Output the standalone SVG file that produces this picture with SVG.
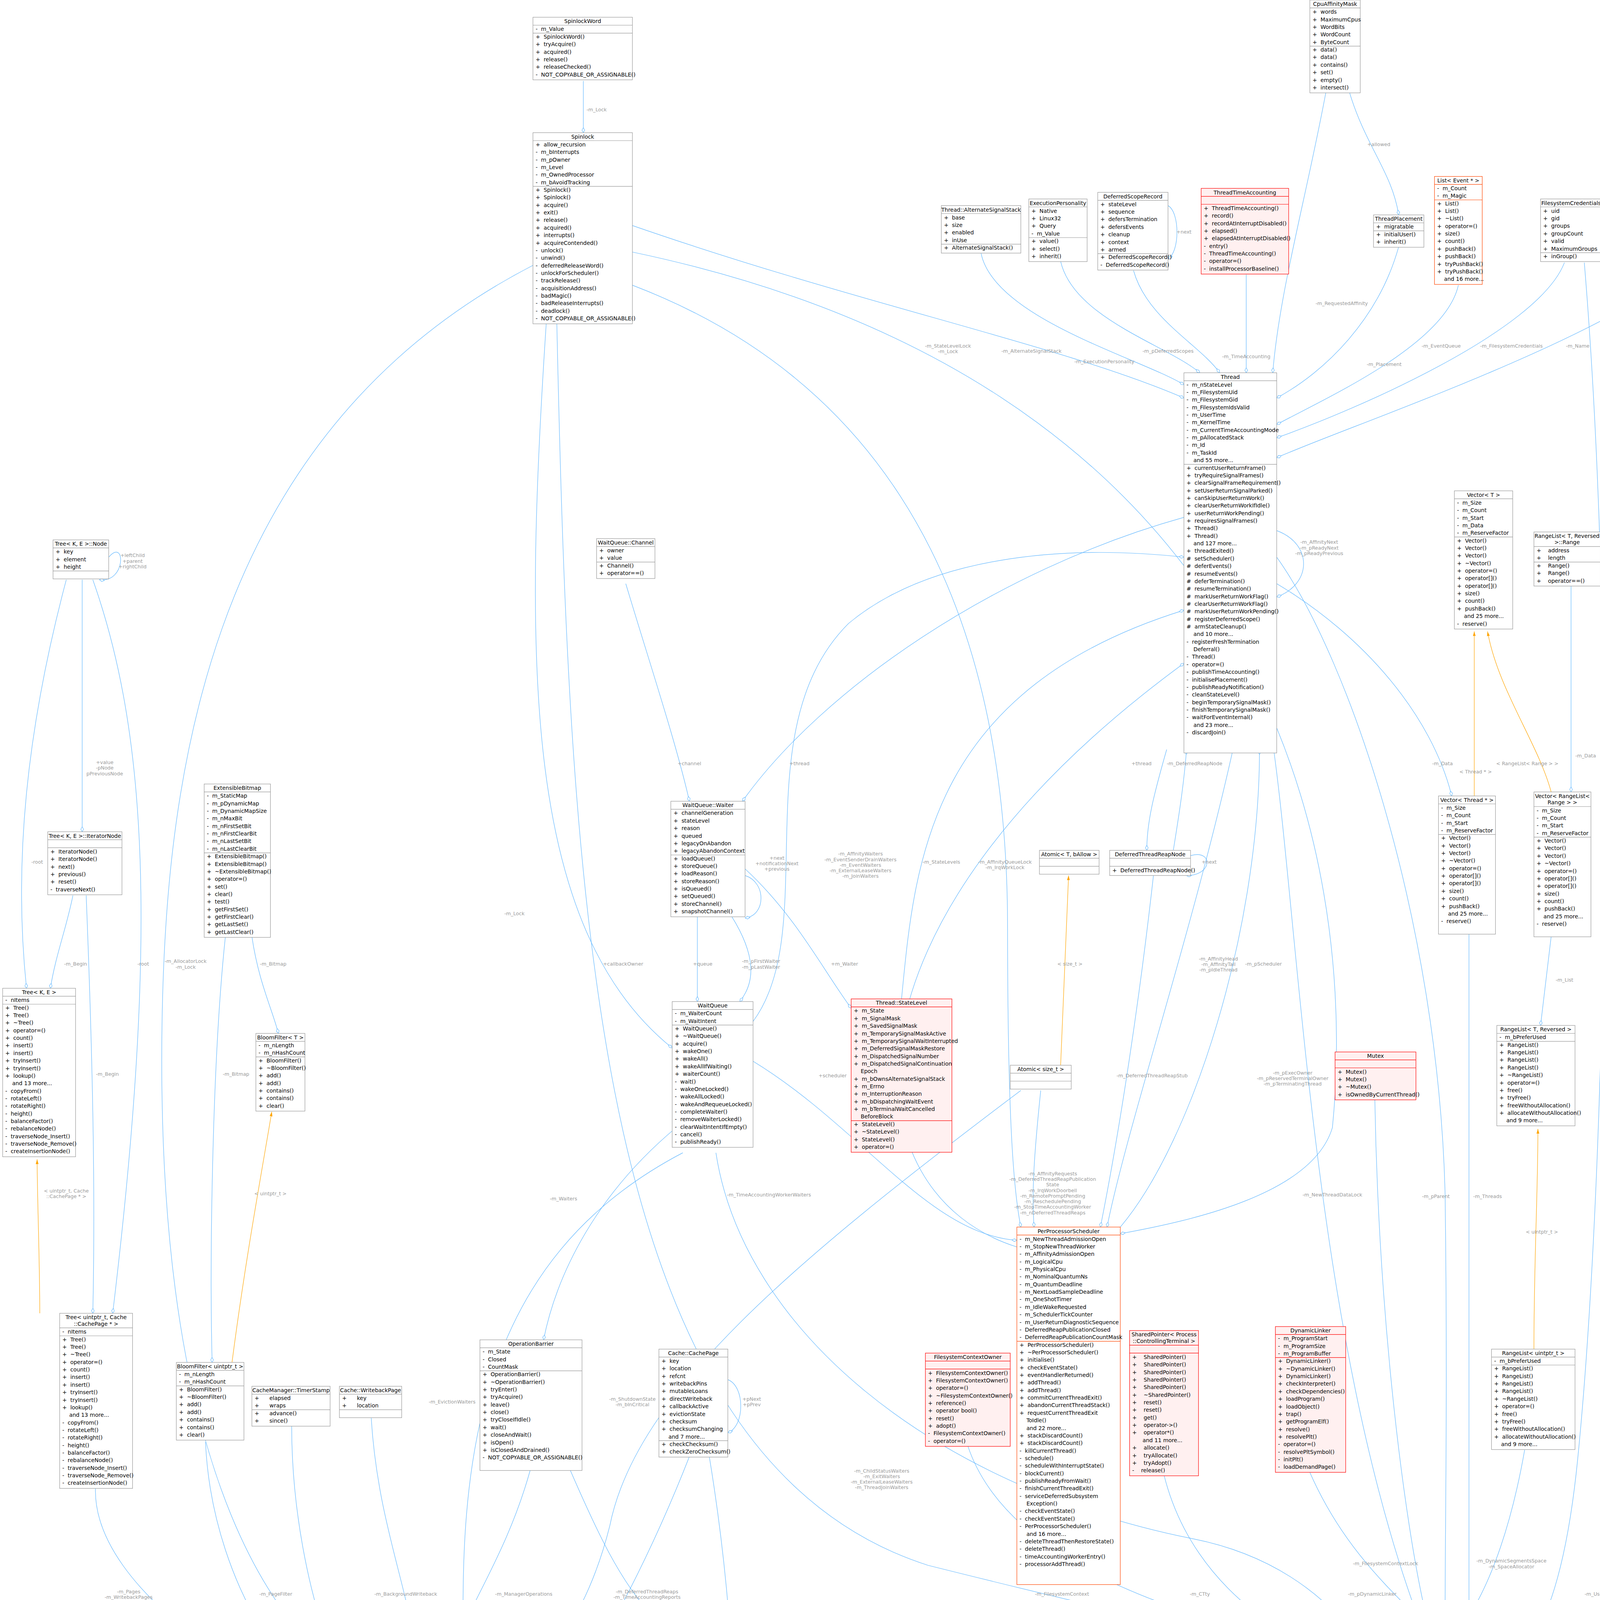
<svg xmlns="http://www.w3.org/2000/svg" width="5162" height="5325" viewBox="0 0 5162 5325">
<defs>
<style>
text{font-family:"DejaVu Sans","Liberation Sans",sans-serif;white-space:pre}
.t{font-size:4.1px;fill:#000}
.h{font-size:4.1px;fill:#000;text-anchor:middle}
.nd rect{fill:#fff;stroke:#999;stroke-width:0.35}
.nd line{stroke:#999;stroke-width:0.35}
.rd rect{fill:#fff0f0;stroke:#f00;stroke-width:0.35}
.rd line{stroke:#f00;stroke-width:0.35}
.or rect{fill:#fff;stroke:#ff4500;stroke-width:0.35}
.or line{stroke:#ff4500;stroke-width:0.35}
.gy rect{fill:#999;stroke:#666;stroke-width:0.35}
.gy line{stroke:#666;stroke-width:0.35}
.e path{fill:none;stroke:#63b8ff;stroke-width:0.35;marker-end:url(#dia)}
.e path.o{stroke:#ffa500;marker-end:url(#arr)}
.el{font-size:3.7px;fill:#9a9a9a;text-anchor:middle}
</style>
<marker id="dia" viewBox="0 0 10 6" refX="9.5" refY="3" markerWidth="4.2" markerHeight="2.5" markerUnits="userSpaceOnUse" orient="auto"><path d="M0.5,3 L5,0.5 L9.5,3 L5,5.5 Z" fill="#fff" stroke="#63b8ff" stroke-width="0.8"/></marker>
<marker id="arr" viewBox="0 0 10 6" refX="10" refY="3" markerWidth="3.5" markerHeight="2.2" markerUnits="userSpaceOnUse" orient="auto"><path d="M0,0 L10,3 L0,6 Z" fill="#ffa500"/></marker>
</defs>
<rect width="5162" height="5325" fill="#fff"/>
<g transform="scale(3.394,3.396)">
<g id="connectors" class="e">
<path d="M440,61 L440,100"/>
<path d="M477,170 C650,230 800,260 893,300"/>
<path d="M412,244 C395,500 395,700 507,790"/>
<path d="M402,200 C150,330 122,600 122,800 C122,1100 200,1250 308,1290"/>
<path d="M477,215 C700,300 760,500 760,700 C760,850 765,900 770,925"/>
<path d="M477,190 C1000,300 1020,700 1005,850 C990,900 900,920 845,930"/>
<path d="M420,244 C430,700 450,1100 700,1180 C900,1230 1000,1250 1060,1260"/>
<path d="M1000,70 C985,150 965,220 960,281"/>
<path d="M1018,70 C1030,110 1050,130 1055,162"/>
<path d="M1055,186 C1040,240 1000,280 963,300"/>
<path d="M940,207 L940,281"/>
<path d="M855,204 C865,240 905,260 920,281"/>
<path d="M800,197 C810,240 880,260 905,281"/>
<path d="M740,191 C750,240 860,270 893,290"/>
<path d="M1100,215 C1090,260 1000,300 963,320"/>
<path d="M1180,198 C1160,250 1020,310 963,330"/>
<path d="M1275,200 C1200,260 1020,320 963,345"/>
<path d="M1295,253 L1295,387"/>
<path d="M1310,253 C1330,400 1330,520 1322,600"/>
<path d="M1195,198 C1220,500 1210,900 1190,1100 C1180,1200 1160,1240 1136,1260"/>
<path d="M1292,457 C1300,520 1305,560 1308,600"/>
<path d="M1288,457 C1285,700 1280,1000 1250,1150 C1220,1250 1170,1270 1136,1280"/>
<path d="M1320,698 C1320,900 1300,1150 1250,1230 C1210,1290 1170,1295 1136,1300"/>
<path d="M1112,600 L1112,476" class="o"/>
<path d="M1170,597 C1160,560 1130,520 1122,476" class="o"/>
<path d="M963,440 C1030,480 1080,540 1095,600"/>
<path d="M1185,441 L1185,597"/>
<path d="M1170,706 L1162,773"/>
<path d="M1157,1017 C1157,950 1160,900 1160,851" class="o"/>
<path d="M1150,1093 C1140,1150 1125,1190 1110,1215"/>
<path d="M1108,704 L1108,1215"/>
<path d="M1037,829 C1040,1000 1060,1150 1075,1215"/>
<path d="M963,420 C1020,500 1085,700 1090,900 C1092,1050 1090,1150 1090,1215"/>
<path d="M960,560 C980,700 990,1000 1068,1215"/>
<path d="M730,1090 C760,1180 900,1230 1060,1250"/>
<path d="M878,1112 C900,1200 980,1250 1060,1265"/>
<path d="M988,1110 C1010,1160 1040,1190 1065,1215"/>
<path d="M1300,1110 C1290,1180 1200,1220 1136,1240"/>
<path d="M1363,1118 C1350,1190 1230,1230 1136,1250"/>
<path d="M1427,1162 C1400,1220 1250,1250 1136,1260"/>
<path d="M1492,1110 C1480,1210 1300,1260 1136,1270"/>
<path d="M1136,1395 C1160,1410 1160,1440 1136,1450"/>
<path d="M472,440 C490,500 510,560 520,604"/>
<path d="M893,390 C750,430 620,520 560,604"/>
<path d="M562,660 C578,665 578,690 562,692"/>
<path d="M526,691 L526,755"/>
<path d="M552,691 C570,720 570,740 558,755"/>
<path d="M562,655 C600,690 620,730 642,760"/>
<path d="M568,770 C620,700 560,550 640,470 C700,420 800,410 893,420"/>
<path d="M680,753 C690,650 700,520 893,460"/>
<path d="M767,940 C640,900 620,700 893,500"/>
<path d="M930,565 C900,700 850,850 835,925"/>
<path d="M845,925 C900,860 950,700 950,565"/>
<path d="M800,803 L806,660" class="o"/>
<path d="M785,822 C780,870 778,900 780,925"/>
<path d="M870,660 C860,750 845,850 830,925"/>
<path d="M880,565 C870,600 865,620 865,641"/>
<path d="M885,641 C890,610 893,590 895,565"/>
<path d="M898,645 C915,640 915,660 895,660"/>
<path d="M568,800 C650,850 700,930 767,935"/>
<path d="M540,869 C560,1000 700,1120 900,1160 C1000,1180 1040,1250 1060,1300"/>
<path d="M510,850 C450,900 420,960 410,1010"/>
<path d="M515,869 C360,950 345,1100 350,1257"/>
<path d="M770,822 C600,950 480,1050 460,1150 C440,1230 400,1270 364,1290"/>
<path d="M72,1122 C70,1200 200,1280 308,1320"/>
<path d="M155,1087 C160,1200 230,1300 308,1330"/>
<path d="M220,1075 C220,1200 270,1320 308,1340"/>
<path d="M280,1069 C285,1150 310,1200 315,1257"/>
<path d="M400,1108 C380,1180 345,1220 340,1257"/>
<path d="M430,1108 C470,1200 500,1260 600,1260 C800,1260 900,1280 1060,1320"/>
<path d="M520,1098 C480,1200 420,1310 364,1350"/>
<path d="M549,1040 C562,1045 562,1075 549,1080"/>
<path d="M364,1380 C420,1420 470,1470 500,1513"/>
<path d="M535,1098 C560,1250 560,1400 540,1513"/>
<path d="M82,420 C95,405 95,440 75,437"/>
<path d="M50,437 C20,550 10,650 20,745"/>
<path d="M62,437 L62,627"/>
<path d="M55,675 C50,700 42,720 38,745"/>
<path d="M70,437 C110,550 120,700 85,990"/>
<path d="M65,675 C70,800 72,900 70,990"/>
<path d="M30,990 C30,950 28,900 28,874" class="o"/>
<path d="M190,706 C195,740 205,760 210,779"/>
<path d="M170,706 C160,800 158,950 160,1027"/>
<path d="M175,1027 C185,950 198,880 205,838" class="o"/>
<path d="M881,155 C890,160 890,190 881,195"/>
<path d="M963,400 C990,410 990,440 963,450"/>
</g>
<g id="labels">
<text class="el" x="450" y="84">-m_Lock</text>
<text class="el" x="715" y="262"><tspan x="715">-m_StateLevelLock</tspan><tspan x="715" dy="4.2">-m_Lock</tspan></text>
<text class="el" x="388" y="690">-m_Lock</text>
<text class="el" x="140" y="726"><tspan x="140">-m_AllocatorLock</tspan><tspan x="140" dy="4.2">-m_Lock</tspan></text>
<text class="el" x="758" y="651"><tspan x="758">-m_AffinityQueueLock</tspan><tspan x="758" dy="4.2">-m_IrqWorkLock</tspan></text>
<text class="el" x="1005" y="902">-m_NewThreadDataLock</text>
<text class="el" x="1012" y="230">-m_RequestedAffinity</text>
<text class="el" x="1040" y="110">+allowed</text>
<text class="el" x="1044" y="276">-m_Placement</text>
<text class="el" x="940" y="270">-m_TimeAccounting</text>
<text class="el" x="881" y="266">-m_pDeferredScopes</text>
<text class="el" x="833" y="274">-m_ExecutionPersonality</text>
<text class="el" x="778" y="266">-m_AlternateSignalStack</text>
<text class="el" x="893" y="176">+next</text>
<text class="el" x="1087" y="262">-m_EventQueue</text>
<text class="el" x="1140" y="262">-m_FilesystemCredentials</text>
<text class="el" x="1190" y="262">-m_Name</text>
<text class="el" x="1300" y="300">-m_Name</text>
<text class="el" x="1343" y="290"><tspan x="1343">-m_FullName</tspan><tspan x="1343" dy="4.2">-m_Home</tspan><tspan x="1343" dy="4.2">-m_Shell</tspan><tspan x="1343" dy="4.2">-m_Username</tspan></text>
<text class="el" x="1250" y="680">-m_NativeFilesystemCredentials</text>
<text class="el" x="1320" y="577">-m_pDefaultGroup</text>
<text class="el" x="1290" y="822"><tspan x="1290">-m_pEffectiveGroup</tspan><tspan x="1290" dy="4.2">-m_pGroup</tspan></text>
<text class="el" x="1322" y="900"><tspan x="1322">-m_pEffectiveUser</tspan><tspan x="1322" dy="4.2">-m_pUser</tspan></text>
<text class="el" x="1088" y="577">-m_Data</text>
<text class="el" x="1113" y="583">&lt; Thread * &gt;</text>
<text class="el" x="1152" y="577">&lt; RangeList&lt; Range &gt; &gt;</text>
<text class="el" x="1196" y="571">-m_Data</text>
<text class="el" x="1180" y="740">-m_List</text>
<text class="el" x="1163" y="930">&lt; uintptr_t &gt;</text>
<text class="el" x="1140" y="1178"><tspan x="1140">-m_DynamicSegmentsSpace</tspan><tspan x="1140" dy="4.2">-m_SpaceAllocator</tspan></text>
<text class="el" x="1122" y="903">-m_Threads</text>
<text class="el" x="1083" y="903">-m_pParent</text>
<text class="el" x="1045" y="1180">-m_FilesystemContextLock</text>
<text class="el" x="995" y="410"><tspan x="995">-m_AffinityNext</tspan><tspan x="995" dy="4.2">-m_pReadyNext</tspan><tspan x="995" dy="4.2">-m_pReadyPrevious</tspan></text>
<text class="el" x="975" y="810"><tspan x="975">-m_pExecOwner</tspan><tspan x="975" dy="4.2">-m_pReservedTerminalOwner</tspan><tspan x="975" dy="4.2">-m_pTerminatingThread</tspan></text>
<text class="el" x="801" y="1203">-m_FilesystemContext</text>
<text class="el" x="905" y="1203">-m_CTty</text>
<text class="el" x="1035" y="1203">-m_pDynamicLinker</text>
<text class="el" x="1222" y="1203">-m_UserspacePtyNamespace</text>
<text class="el" x="1292" y="1203">-m_Name</text>
<text class="el" x="1378" y="1201"><tspan x="1378">-m_pAddressSpace</tspan><tspan x="1378" dy="4.2">-m_pTrackedAddressSpace</tspan></text>
<text class="el" x="1478" y="1203">-m_VforkCompletion</text>
<text class="el" x="1158" y="1418"><tspan x="1158">-m_pParent</tspan><tspan x="1158" dy="4.2">-m_pNext</tspan><tspan x="1158" dy="4.2">-m_pGroupNode</tspan></text>
<text class="el" x="520" y="577">+channel</text>
<text class="el" x="603" y="577">+thread</text>
<text class="el" x="586" y="648"><tspan x="586">+next</tspan><tspan x="586" dy="4.2">+notificationNext</tspan><tspan x="586" dy="4.2">+previous</tspan></text>
<text class="el" x="649" y="645"><tspan x="649">-m_AffinityWaiters</tspan><tspan x="649" dy="4.2">-m_EventSenderDrainWaiters</tspan><tspan x="649" dy="4.2">-m_EventWaiters</tspan><tspan x="649" dy="4.2">-m_ExternalLeaseWaiters</tspan><tspan x="649" dy="4.2">-m_JoinWaiters</tspan></text>
<text class="el" x="710" y="651">-m_StateLevels</text>
<text class="el" x="861" y="577">+thread</text>
<text class="el" x="901" y="577">-m_DeferredReapNode</text>
<text class="el" x="912" y="651">+next</text>
<text class="el" x="470" y="728">+callbackOwner</text>
<text class="el" x="530" y="728">+queue</text>
<text class="el" x="574" y="726"><tspan x="574">-m_pFirstWaiter</tspan><tspan x="574" dy="4.2">-m_pLastWaiter</tspan></text>
<text class="el" x="637" y="728">+m_Waiter</text>
<text class="el" x="807" y="728">&lt; size_t &gt;</text>
<text class="el" x="919" y="724"><tspan x="919">-m_AffinityHead</tspan><tspan x="919" dy="4.2">-m_AffinityTail</tspan><tspan x="919" dy="4.2">-m_pIdleThread</tspan></text>
<text class="el" x="953" y="728">-m_pScheduler</text>
<text class="el" x="628" y="812">+scheduler</text>
<text class="el" x="869" y="812">-m_DeferredThreadReapStub</text>
<text class="el" x="794" y="886"><tspan x="794">-m_AffinityRequests</tspan><tspan x="794" dy="4.2">-m_DeferredThreadReapPublication</tspan><tspan x="794" dy="4.2">State</tspan><tspan x="794" dy="4.2">-m_IrqWorkDoorbell</tspan><tspan x="794" dy="4.2">-m_RemotePromptPending</tspan><tspan x="794" dy="4.2">-m_ReschedulePending</tspan><tspan x="794" dy="4.2">-m_StopTimeAccountingWorker</tspan><tspan x="794" dy="4.2">-m_nDeferredThreadReaps</tspan></text>
<text class="el" x="580" y="902">-m_TimeAccountingWorkerWaiters</text>
<text class="el" x="425" y="905">-m_Waiters</text>
<text class="el" x="341" y="1058">-m_EvictionWaiters</text>
<text class="el" x="477" y="1056"><tspan x="477">-m_ShutdownState</tspan><tspan x="477" dy="4.2">-m_bInCritical</tspan></text>
<text class="el" x="665" y="1110"><tspan x="665">-m_ChildStatusWaiters</tspan><tspan x="665" dy="4.2">-m_ExitWaiters</tspan><tspan x="665" dy="4.2">-m_ExternalLeaseWaiters</tspan><tspan x="665" dy="4.2">-m_ThreadJoinWaiters</tspan></text>
<text class="el" x="97" y="1201"><tspan x="97">-m_Pages</tspan><tspan x="97" dy="4.2">-m_WritebackPages</tspan></text>
<text class="el" x="208" y="1203">-m_PageFilter</text>
<text class="el" x="251" y="1209">-m_ManagerTimerStamp</text>
<text class="el" x="306" y="1203">-m_BackgroundWriteback</text>
<text class="el" x="395" y="1203">-m_ManagerOperations</text>
<text class="el" x="488" y="1201"><tspan x="488">-m_DeferredThreadReaps</tspan><tspan x="488" dy="4.2">-m_TimeAccountingReports</tspan></text>
<text class="el" x="540" y="1211"><tspan x="540">-m_pLruHead</tspan><tspan x="540" dy="4.2">-m_pLruTail</tspan></text>
<text class="el" x="567" y="1056"><tspan x="567">+pNext</tspan><tspan x="567" dy="4.2">+pPrev</tspan></text>
<text class="el" x="500" y="1502">-m_Cache</text>
<text class="el" x="562" y="1440">-m_Page</text>
<text class="el" x="100" y="420"><tspan x="100">+leftChild</tspan><tspan x="100" dy="4.2">+parent</tspan><tspan x="100" dy="4.2">+rightChild</tspan></text>
<text class="el" x="79" y="576"><tspan x="79">+value</tspan><tspan x="79" dy="4.2">-pNode</tspan><tspan x="79" dy="4.2">pPreviousNode</tspan></text>
<text class="el" x="28" y="651">-root</text>
<text class="el" x="57" y="728">-m_Begin</text>
<text class="el" x="108" y="728">-root</text>
<text class="el" x="206" y="728">-m_Bitmap</text>
<text class="el" x="178" y="811">-m_Bitmap</text>
<text class="el" x="81" y="811">-m_Begin</text>
<text class="el" x="50" y="899"><tspan x="50">&lt; uintptr_t, Cache</tspan><tspan x="50" dy="4.2">::CachePage * &gt;</tspan></text>
<text class="el" x="204" y="901">&lt; uintptr_t &gt;</text>
</g>

<g id="SpinlockWord" class="nd" transform="translate(402,13)"><rect width="75" height="47.2"/><text class="h" x="37.5" y="4.5">SpinlockWord</text><line x2="75" y1="6" y2="6"/><line x2="75" y1="12" y2="12"/><text class="t"><tspan x="2" y="10.4">-  m_Value</tspan><tspan x="2" dy="5.7">+  SpinlockWord()</tspan><tspan x="2" dy="5.7">+  tryAcquire()</tspan><tspan x="2" dy="5.7">+  acquired()</tspan><tspan x="2" dy="5.7">+  release()</tspan><tspan x="2" dy="5.7">+  releaseChecked()</tspan><tspan x="2" dy="5.7">-  NOT_COPYABLE_OR_ASSIGNABLE()</tspan></text></g>

<g id="Spinlock" class="nd" transform="translate(402,100)"><rect width="75" height="144.1"/><text class="h" x="37.5" y="4.5">Spinlock</text><line x2="75" y1="6" y2="6"/><line x2="75" y1="40.5" y2="40.5"/><text class="t"><tspan x="2" y="10.4">+  allow_recursion</tspan><tspan x="2" dy="5.7">-  m_bInterrupts</tspan><tspan x="2" dy="5.7">-  m_pOwner</tspan><tspan x="2" dy="5.7">-  m_Level</tspan><tspan x="2" dy="5.7">-  m_OwnedProcessor</tspan><tspan x="2" dy="5.7">-  m_bAvoidTracking</tspan><tspan x="2" dy="5.7">+  Spinlock()</tspan><tspan x="2" dy="5.7">+  Spinlock()</tspan><tspan x="2" dy="5.7">+  acquire()</tspan><tspan x="2" dy="5.7">+  exit()</tspan><tspan x="2" dy="5.7">+  release()</tspan><tspan x="2" dy="5.7">+  acquired()</tspan><tspan x="2" dy="5.7">+  interrupts()</tspan><tspan x="2" dy="5.7">+  acquireContended()</tspan><tspan x="2" dy="5.7">-  unlock()</tspan><tspan x="2" dy="5.7">-  unwind()</tspan><tspan x="2" dy="5.7">-  deferredReleaseWord()</tspan><tspan x="2" dy="5.7">-  unlockForScheduler()</tspan><tspan x="2" dy="5.7">-  trackRelease()</tspan><tspan x="2" dy="5.7">-  acquisitionAddress()</tspan><tspan x="2" dy="5.7">-  badMagic()</tspan><tspan x="2" dy="5.7">-  badReleaseInterrupts()</tspan><tspan x="2" dy="5.7">-  deadlock()</tspan><tspan x="2" dy="5.7">-  NOT_COPYABLE_OR_ASSIGNABLE()</tspan></text></g>

<g id="CpuAffinityMask" class="nd" transform="translate(988,0)"><rect width="38" height="70"/><text class="h" x="19" y="4.5">CpuAffinityMask</text><line x2="38" y1="6" y2="6"/><line x2="38" y1="34.8" y2="34.8"/><text class="t"><tspan x="2" y="10.4">+  words</tspan><tspan x="2" dy="5.7">+  MaximumCpus</tspan><tspan x="2" dy="5.7">+  WordBits</tspan><tspan x="2" dy="5.7">+  WordCount</tspan><tspan x="2" dy="5.7">+  ByteCount</tspan><tspan x="2" dy="5.7">+  data()</tspan><tspan x="2" dy="5.7">+  data()</tspan><tspan x="2" dy="5.7">+  contains()</tspan><tspan x="2" dy="5.7">+  set()</tspan><tspan x="2" dy="5.7">+  empty()</tspan><tspan x="2" dy="5.7">+  intersect()</tspan></text></g>

<g id="String" class="nd" transform="translate(1275,92)"><rect width="39" height="161.2"/><text class="h" x="19.5" y="4.5">String</text><line x2="39" y1="6" y2="6"/><line x2="39" y1="29.1" y2="29.1"/><text class="t"><tspan x="2" y="10.4">-  m_Data</tspan><tspan x="2" dy="5.7">-  m_Length</tspan><tspan x="2" dy="5.7">-  m_Size</tspan><tspan x="2" dy="5.7">-  m_Hash</tspan><tspan x="2" dy="5.7">+  String()</tspan><tspan x="2" dy="5.7">+  String()</tspan><tspan x="2" dy="5.7">+  String()</tspan><tspan x="2" dy="5.7">+  String()</tspan><tspan x="2" dy="5.7">+  String()</tspan><tspan x="2" dy="5.7">+  String()</tspan><tspan x="2" dy="5.7">+  String()</tspan><tspan x="2" dy="5.7">+  String()</tspan><tspan x="2" dy="5.7">+  ~String()</tspan><tspan x="2" dy="5.7">+  operator=()</tspan><tspan x="2" dy="5.7">    and 50 more...</tspan><tspan x="2" dy="5.7">+  Utf32ToUtf8()</tspan><tspan x="2" dy="5.7">#  iswhitespace()</tspan><tspan x="2" dy="5.7">#  reserve()</tspan><tspan x="2" dy="5.7">#  computeHash()</tspan><tspan x="2" dy="5.7">#  computeHash()</tspan><tspan x="2" dy="5.7">#  setLength()</tspan><tspan x="2" dy="5.7">#  setSize()</tspan><tspan x="2" dy="5.7">-  maybeHash()</tspan><tspan x="2" dy="5.7">-  extract()</tspan><tspan x="2" dy="5.7">-  move()</tspan><tspan x="2" dy="5.7">-  resizable()</tspan><tspan x="2" dy="5.7">-  assignable()</tspan></text></g>

<g id="AlternateSignalStack" class="nd" transform="translate(710,155)"><rect width="60" height="35.8"/><text class="h" x="30" y="4.5">Thread::AlternateSignalStack</text><line x2="60" y1="6" y2="6"/><line x2="60" y1="29.1" y2="29.1"/><text class="t"><tspan x="2" y="10.4">+  base</tspan><tspan x="2" dy="5.7">+  size</tspan><tspan x="2" dy="5.7">+  enabled</tspan><tspan x="2" dy="5.7">+  inUse</tspan><tspan x="2" dy="5.7">+  AlternateSignalStack()</tspan></text></g>

<g id="ExecutionPersonality" class="nd" transform="translate(776,150)"><rect width="44" height="47.2"/><text class="h" x="22" y="4.5">ExecutionPersonality</text><line x2="44" y1="6" y2="6"/><line x2="44" y1="29.1" y2="29.1"/><text class="t"><tspan x="2" y="10.4">+  Native</tspan><tspan x="2" dy="5.7">+  Linux32</tspan><tspan x="2" dy="5.7">+  Query</tspan><tspan x="2" dy="5.7">-  m_Value</tspan><tspan x="2" dy="5.7">+  value()</tspan><tspan x="2" dy="5.7">+  select()</tspan><tspan x="2" dy="5.7">+  inherit()</tspan></text></g>

<g id="DeferredScopeRecord" class="nd" transform="translate(828,145)"><rect width="53" height="58.6"/><text class="h" x="26.5" y="4.5">DeferredScopeRecord</text><line x2="53" y1="6" y2="6"/><line x2="53" y1="46.2" y2="46.2"/><text class="t"><tspan x="2" y="10.4">+  stateLevel</tspan><tspan x="2" dy="5.7">+  sequence</tspan><tspan x="2" dy="5.7">+  defersTermination</tspan><tspan x="2" dy="5.7">+  defersEvents</tspan><tspan x="2" dy="5.7">+  cleanup</tspan><tspan x="2" dy="5.7">+  context</tspan><tspan x="2" dy="5.7">+  armed</tspan><tspan x="2" dy="5.7">+  DeferredScopeRecord()</tspan><tspan x="2" dy="5.7">-  DeferredScopeRecord()</tspan></text></g>

<g id="ThreadTimeAccounting" class="rd" transform="translate(906,142)"><rect width="66" height="64.6"/><text class="h" x="33" y="4.5">ThreadTimeAccounting</text><line x2="66" y1="6" y2="6"/><line x2="66" y1="12" y2="12"/><text class="t"><tspan x="2" y="16.4">+  ThreadTimeAccounting()</tspan><tspan x="2" dy="5.7">+  record()</tspan><tspan x="2" dy="5.7">+  recordAtInterruptDisabled()</tspan><tspan x="2" dy="5.7">+  elapsed()</tspan><tspan x="2" dy="5.7">+  elapsedAtInterruptDisabled()</tspan><tspan x="2" dy="5.7">-  entry()</tspan><tspan x="2" dy="5.7">-  ThreadTimeAccounting()</tspan><tspan x="2" dy="5.7">-  operator=()</tspan><tspan x="2" dy="5.7">-  installProcessorBaseline()</tspan></text></g>

<g id="ThreadPlacement" class="nd" transform="translate(1036,162)"><rect width="38" height="24.4"/><text class="h" x="19" y="4.5">ThreadPlacement</text><line x2="38" y1="6" y2="6"/><line x2="38" y1="12" y2="12"/><text class="t"><tspan x="2" y="10.4">+  migratable</tspan><tspan x="2" dy="5.7">+  initialUser()</tspan><tspan x="2" dy="5.7">+  inherit()</tspan></text></g>

<g id="ListEvent" class="or" transform="translate(1082,133)"><rect width="36" height="81.4"/><text class="h" x="18" y="4.5">List&lt; Event * &gt;</text><line x2="36" y1="6" y2="6"/><line x2="36" y1="17.7" y2="17.7"/><text class="t"><tspan x="2" y="10.4">-  m_Count</tspan><tspan x="2" dy="5.7">-  m_Magic</tspan><tspan x="2" dy="5.7">+  List()</tspan><tspan x="2" dy="5.7">+  List()</tspan><tspan x="2" dy="5.7">+  ~List()</tspan><tspan x="2" dy="5.7">+  operator=()</tspan><tspan x="2" dy="5.7">+  size()</tspan><tspan x="2" dy="5.7">+  count()</tspan><tspan x="2" dy="5.7">+  pushBack()</tspan><tspan x="2" dy="5.7">+  pushBack()</tspan><tspan x="2" dy="5.7">+  tryPushBack()</tspan><tspan x="2" dy="5.7">+  tryPushBack()</tspan><tspan x="2" dy="5.7">    and 16 more...</tspan></text></g>

<g id="FilesystemCredentials" class="nd" transform="translate(1162,150)"><rect width="46" height="47.2"/><text class="h" x="23" y="4.5">FilesystemCredentials</text><line x2="46" y1="6" y2="6"/><line x2="46" y1="40.5" y2="40.5"/><text class="t"><tspan x="2" y="10.4">+  uid</tspan><tspan x="2" dy="5.7">+  gid</tspan><tspan x="2" dy="5.7">+  groups</tspan><tspan x="2" dy="5.7">+  groupCount</tspan><tspan x="2" dy="5.7">+  valid</tspan><tspan x="2" dy="5.7">+  MaximumGroups</tspan><tspan x="2" dy="5.7">+  inGroup()</tspan></text></g>

<g id="Thread" class="nd" transform="translate(893,281)"><rect width="70" height="286.6"/><text class="h" x="35" y="4.5">Thread</text><line x2="70" y1="6" y2="6"/><line x2="70" y1="69" y2="69"/><text class="t"><tspan x="2" y="10.4">-  m_nStateLevel</tspan><tspan x="2" dy="5.7">-  m_FilesystemUid</tspan><tspan x="2" dy="5.7">-  m_FilesystemGid</tspan><tspan x="2" dy="5.7">-  m_FilesystemIdsValid</tspan><tspan x="2" dy="5.7">-  m_UserTime</tspan><tspan x="2" dy="5.7">-  m_KernelTime</tspan><tspan x="2" dy="5.7">-  m_CurrentTimeAccountingMode</tspan><tspan x="2" dy="5.7">-  m_pAllocatedStack</tspan><tspan x="2" dy="5.7">-  m_Id</tspan><tspan x="2" dy="5.7">-  m_TaskId</tspan><tspan x="2" dy="5.7">    and 55 more...</tspan><tspan x="2" dy="5.7">+  currentUserReturnFrame()</tspan><tspan x="2" dy="5.7">+  tryRequireSignalFrames()</tspan><tspan x="2" dy="5.7">+  clearSignalFrameRequirement()</tspan><tspan x="2" dy="5.7">+  setUserReturnSignalParked()</tspan><tspan x="2" dy="5.7">+  canSkipUserReturnWork()</tspan><tspan x="2" dy="5.7">+  clearUserReturnWorkIfIdle()</tspan><tspan x="2" dy="5.7">+  userReturnWorkPending()</tspan><tspan x="2" dy="5.7">+  requiresSignalFrames()</tspan><tspan x="2" dy="5.7">+  Thread()</tspan><tspan x="2" dy="5.7">+  Thread()</tspan><tspan x="2" dy="5.7">    and 127 more...</tspan><tspan x="2" dy="5.7">+  threadExited()</tspan><tspan x="2" dy="5.7">#  setScheduler()</tspan><tspan x="2" dy="5.7">#  deferEvents()</tspan><tspan x="2" dy="5.7">#  resumeEvents()</tspan><tspan x="2" dy="5.7">#  deferTermination()</tspan><tspan x="2" dy="5.7">#  resumeTermination()</tspan><tspan x="2" dy="5.7">#  markUserReturnWorkFlag()</tspan><tspan x="2" dy="5.7">#  clearUserReturnWorkFlag()</tspan><tspan x="2" dy="5.7">#  markUserReturnWorkPending()</tspan><tspan x="2" dy="5.7">#  registerDeferredScope()</tspan><tspan x="2" dy="5.7">#  armStateCleanup()</tspan><tspan x="2" dy="5.7">    and 10 more...</tspan><tspan x="2" dy="5.7">-  registerFreshTermination</tspan><tspan x="2" dy="5.7">    Deferral()</tspan><tspan x="2" dy="5.7">-  Thread()</tspan><tspan x="2" dy="5.7">-  operator=()</tspan><tspan x="2" dy="5.7">-  publishTimeAccounting()</tspan><tspan x="2" dy="5.7">-  initialisePlacement()</tspan><tspan x="2" dy="5.7">-  publishReadyNotification()</tspan><tspan x="2" dy="5.7">-  cleanStateLevel()</tspan><tspan x="2" dy="5.7">-  beginTemporarySignalMask()</tspan><tspan x="2" dy="5.7">-  finishTemporarySignalMask()</tspan><tspan x="2" dy="5.7">-  waitForEventInternal()</tspan><tspan x="2" dy="5.7">    and 23 more...</tspan><tspan x="2" dy="5.7">-  discardJoin()</tspan></text></g>

<g id="WaitQueueChannel" class="nd" transform="translate(450,406)"><rect width="44" height="30.1"/><text class="h" x="22" y="4.5">WaitQueue::Channel</text><line x2="44" y1="6" y2="6"/><line x2="44" y1="17.7" y2="17.7"/><text class="t"><tspan x="2" y="10.4">+  owner</tspan><tspan x="2" dy="5.7">+  value</tspan><tspan x="2" dy="5.7">+  Channel()</tspan><tspan x="2" dy="5.7">+  operator==()</tspan></text></g>

<g id="TreeNode" class="nd" transform="translate(40,407)"><rect width="42" height="29.4"/><text class="h" x="21" y="4.5">Tree&lt; K, E &gt;::Node</text><line x2="42" y1="6" y2="6"/><line x2="42" y1="23.4" y2="23.4"/><text class="t"><tspan x="2" y="10.4">+  key</tspan><tspan x="2" dy="5.7">+  element</tspan><tspan x="2" dy="5.7">+  height</tspan></text></g>

<g id="TreeIteratorNode" class="nd" transform="translate(36,627)"><rect width="56" height="47.5"/><text class="h" x="28" y="4.5">Tree&lt; K, E &gt;::IteratorNode</text><line x2="56" y1="6" y2="6"/><line x2="56" y1="12" y2="12"/><text class="t"><tspan x="2" y="16.4">+  IteratorNode()</tspan><tspan x="2" dy="5.7">+  IteratorNode()</tspan><tspan x="2" dy="5.7">+  next()</tspan><tspan x="2" dy="5.7">+  previous()</tspan><tspan x="2" dy="5.7">+  reset()</tspan><tspan x="2" dy="5.7">-  traverseNext()</tspan></text></g>

<g id="TreeKE" class="nd" transform="translate(2,745)"><rect width="55" height="127"/><text class="h" x="27.5" y="4.5">Tree&lt; K, E &gt;</text><line x2="55" y1="6" y2="6"/><line x2="55" y1="12" y2="12"/><text class="t"><tspan x="2" y="10.4">-  nItems</tspan><tspan x="2" dy="5.7">+  Tree()</tspan><tspan x="2" dy="5.7">+  Tree()</tspan><tspan x="2" dy="5.7">+  ~Tree()</tspan><tspan x="2" dy="5.7">+  operator=()</tspan><tspan x="2" dy="5.7">+  count()</tspan><tspan x="2" dy="5.7">+  insert()</tspan><tspan x="2" dy="5.7">+  insert()</tspan><tspan x="2" dy="5.7">+  tryInsert()</tspan><tspan x="2" dy="5.7">+  tryInsert()</tspan><tspan x="2" dy="5.7">+  lookup()</tspan><tspan x="2" dy="5.7">    and 13 more...</tspan><tspan x="2" dy="5.7">-  copyFrom()</tspan><tspan x="2" dy="5.7">-  rotateLeft()</tspan><tspan x="2" dy="5.7">-  rotateRight()</tspan><tspan x="2" dy="5.7">-  height()</tspan><tspan x="2" dy="5.7">-  balanceFactor()</tspan><tspan x="2" dy="5.7">-  rebalanceNode()</tspan><tspan x="2" dy="5.7">-  traverseNode_Insert()</tspan><tspan x="2" dy="5.7">-  traverseNode_Remove()</tspan><tspan x="2" dy="5.7">-  createInsertionNode()</tspan></text></g>

<g id="ExtensibleBitmap" class="nd" transform="translate(154,591)"><rect width="50" height="115.6"/><text class="h" x="25" y="4.5">ExtensibleBitmap</text><line x2="50" y1="6" y2="6"/><line x2="50" y1="51.9" y2="51.9"/><text class="t"><tspan x="2" y="10.4">-  m_StaticMap</tspan><tspan x="2" dy="5.7">-  m_pDynamicMap</tspan><tspan x="2" dy="5.7">-  m_DynamicMapSize</tspan><tspan x="2" dy="5.7">-  m_nMaxBit</tspan><tspan x="2" dy="5.7">-  m_nFirstSetBit</tspan><tspan x="2" dy="5.7">-  m_nFirstClearBit</tspan><tspan x="2" dy="5.7">-  m_nLastSetBit</tspan><tspan x="2" dy="5.7">-  m_nLastClearBit</tspan><tspan x="2" dy="5.7">+  ExtensibleBitmap()</tspan><tspan x="2" dy="5.7">+  ExtensibleBitmap()</tspan><tspan x="2" dy="5.7">+  ~ExtensibleBitmap()</tspan><tspan x="2" dy="5.7">+  operator=()</tspan><tspan x="2" dy="5.7">+  set()</tspan><tspan x="2" dy="5.7">+  clear()</tspan><tspan x="2" dy="5.7">+  test()</tspan><tspan x="2" dy="5.7">+  getFirstSet()</tspan><tspan x="2" dy="5.7">+  getFirstClear()</tspan><tspan x="2" dy="5.7">+  getLastSet()</tspan><tspan x="2" dy="5.7">+  getLastClear()</tspan></text></g>

<g id="BloomFilterT" class="nd" transform="translate(193,779)"><rect width="37" height="58.6"/><text class="h" x="18.5" y="4.5">BloomFilter&lt; T &gt;</text><line x2="37" y1="6" y2="6"/><line x2="37" y1="17.7" y2="17.7"/><text class="t"><tspan x="2" y="10.4">-  m_nLength</tspan><tspan x="2" dy="5.7">-  m_nHashCount</tspan><tspan x="2" dy="5.7">+  BloomFilter()</tspan><tspan x="2" dy="5.7">+  ~BloomFilter()</tspan><tspan x="2" dy="5.7">+  add()</tspan><tspan x="2" dy="5.7">+  add()</tspan><tspan x="2" dy="5.7">+  contains()</tspan><tspan x="2" dy="5.7">+  contains()</tspan><tspan x="2" dy="5.7">+  clear()</tspan></text></g>

<g id="TreeCachePage" class="nd" transform="translate(45,990)"><rect width="55" height="132"/><text class="h" x="27.5" y="4.5">Tree&lt; uintptr_t, Cache</text><text class="h" x="27.5" y="9.3">::CachePage * &gt;</text><line x2="55" y1="11" y2="11"/><line x2="55" y1="17" y2="17"/><text class="t"><tspan x="2" y="15.4">-  nItems</tspan><tspan x="2" dy="5.7">+  Tree()</tspan><tspan x="2" dy="5.7">+  Tree()</tspan><tspan x="2" dy="5.7">+  ~Tree()</tspan><tspan x="2" dy="5.7">+  operator=()</tspan><tspan x="2" dy="5.7">+  count()</tspan><tspan x="2" dy="5.7">+  insert()</tspan><tspan x="2" dy="5.7">+  insert()</tspan><tspan x="2" dy="5.7">+  tryInsert()</tspan><tspan x="2" dy="5.7">+  tryInsert()</tspan><tspan x="2" dy="5.7">+  lookup()</tspan><tspan x="2" dy="5.7">    and 13 more...</tspan><tspan x="2" dy="5.7">-  copyFrom()</tspan><tspan x="2" dy="5.7">-  rotateLeft()</tspan><tspan x="2" dy="5.7">-  rotateRight()</tspan><tspan x="2" dy="5.7">-  height()</tspan><tspan x="2" dy="5.7">-  balanceFactor()</tspan><tspan x="2" dy="5.7">-  rebalanceNode()</tspan><tspan x="2" dy="5.7">-  traverseNode_Insert()</tspan><tspan x="2" dy="5.7">-  traverseNode_Remove()</tspan><tspan x="2" dy="5.7">-  createInsertionNode()</tspan></text></g>

<g id="BloomFilterUintptr" class="nd" transform="translate(133,1027)"><rect width="51" height="58.6"/><text class="h" x="25.5" y="4.5">BloomFilter&lt; uintptr_t &gt;</text><line x2="51" y1="6" y2="6"/><line x2="51" y1="17.7" y2="17.7"/><text class="t"><tspan x="2" y="10.4">-  m_nLength</tspan><tspan x="2" dy="5.7">-  m_nHashCount</tspan><tspan x="2" dy="5.7">+  BloomFilter()</tspan><tspan x="2" dy="5.7">+  ~BloomFilter()</tspan><tspan x="2" dy="5.7">+  add()</tspan><tspan x="2" dy="5.7">+  add()</tspan><tspan x="2" dy="5.7">+  contains()</tspan><tspan x="2" dy="5.7">+  contains()</tspan><tspan x="2" dy="5.7">+  clear()</tspan></text></g>

<g id="TimerStamp" class="nd" transform="translate(190,1045)"><rect width="59" height="30.1"/><text class="h" x="29.5" y="4.5">CacheManager::TimerStamp</text><line x2="59" y1="6" y2="6"/><line x2="59" y1="17.7" y2="17.7"/><text class="t"><tspan x="2" y="10.4">+      elapsed</tspan><tspan x="2" dy="5.7">+      wraps</tspan><tspan x="2" dy="5.7">+      advance()</tspan><tspan x="2" dy="5.7">+      since()</tspan></text></g>

<g id="WritebackPage" class="nd" transform="translate(256,1045)"><rect width="47" height="23.7"/><text class="h" x="23.5" y="4.5">Cache::WritebackPage</text><line x2="47" y1="6" y2="6"/><line x2="47" y1="17.7" y2="17.7"/><text class="t"><tspan x="2" y="10.4">+      key</tspan><tspan x="2" dy="5.7">+      location</tspan></text></g>

<g id="OperationBarrier" class="nd" transform="translate(362,1010)"><rect width="77" height="98.5"/><text class="h" x="38.5" y="4.5">OperationBarrier</text><line x2="77" y1="6" y2="6"/><line x2="77" y1="23.4" y2="23.4"/><text class="t"><tspan x="2" y="10.4">-  m_State</tspan><tspan x="2" dy="5.7">-  Closed</tspan><tspan x="2" dy="5.7">-  CountMask</tspan><tspan x="2" dy="5.7">+  OperationBarrier()</tspan><tspan x="2" dy="5.7">+  ~OperationBarrier()</tspan><tspan x="2" dy="5.7">+  tryEnter()</tspan><tspan x="2" dy="5.7">+  tryAcquire()</tspan><tspan x="2" dy="5.7">+  leave()</tspan><tspan x="2" dy="5.7">+  close()</tspan><tspan x="2" dy="5.7">+  tryCloseIfIdle()</tspan><tspan x="2" dy="5.7">+  wait()</tspan><tspan x="2" dy="5.7">+  closeAndWait()</tspan><tspan x="2" dy="5.7">+  isOpen()</tspan><tspan x="2" dy="5.7">+  isClosedAndDrained()</tspan><tspan x="2" dy="5.7">-  NOT_COPYABLE_OR_ASSIGNABLE()</tspan></text></g>

<g id="CachePage" class="nd" transform="translate(497,1017)"><rect width="52" height="81.4"/><text class="h" x="26" y="4.5">Cache::CachePage</text><line x2="52" y1="6" y2="6"/><line x2="52" y1="69" y2="69"/><text class="t"><tspan x="2" y="10.4">+  key</tspan><tspan x="2" dy="5.7">+  location</tspan><tspan x="2" dy="5.7">+  refcnt</tspan><tspan x="2" dy="5.7">+  writebackPins</tspan><tspan x="2" dy="5.7">+  mutableLoans</tspan><tspan x="2" dy="5.7">+  directWriteback</tspan><tspan x="2" dy="5.7">+  callbackActive</tspan><tspan x="2" dy="5.7">+  evictionState</tspan><tspan x="2" dy="5.7">+  checksum</tspan><tspan x="2" dy="5.7">+  checksumChanging</tspan><tspan x="2" dy="5.7">    and 7 more...</tspan><tspan x="2" dy="5.7">+  checkChecksum()</tspan><tspan x="2" dy="5.7">+  checkZeroChecksum()</tspan></text></g>

<g id="WaitQueueWaiter" class="nd" transform="translate(506,604)"><rect width="56" height="87.1"/><text class="h" x="28" y="4.5">WaitQueue::Waiter</text><line x2="56" y1="6" y2="6"/><line x2="56" y1="40.5" y2="40.5"/><text class="t"><tspan x="2" y="10.4">+  channelGeneration</tspan><tspan x="2" dy="5.7">+  stateLevel</tspan><tspan x="2" dy="5.7">+  reason</tspan><tspan x="2" dy="5.7">+  queued</tspan><tspan x="2" dy="5.7">+  legacyOnAbandon</tspan><tspan x="2" dy="5.7">+  legacyAbandonContext</tspan><tspan x="2" dy="5.7">+  loadQueue()</tspan><tspan x="2" dy="5.7">+  storeQueue()</tspan><tspan x="2" dy="5.7">+  loadReason()</tspan><tspan x="2" dy="5.7">+  storeReason()</tspan><tspan x="2" dy="5.7">+  isQueued()</tspan><tspan x="2" dy="5.7">+  setQueued()</tspan><tspan x="2" dy="5.7">+  storeChannel()</tspan><tspan x="2" dy="5.7">+  snapshotChannel()</tspan></text></g>

<g id="WaitQueue" class="nd" transform="translate(507,755)"><rect width="61" height="109.9"/><text class="h" x="30.5" y="4.5">WaitQueue</text><line x2="61" y1="6" y2="6"/><line x2="61" y1="17.7" y2="17.7"/><text class="t"><tspan x="2" y="10.4">-  m_WaiterCount</tspan><tspan x="2" dy="5.7">-  m_WaitIntent</tspan><tspan x="2" dy="5.7">+  WaitQueue()</tspan><tspan x="2" dy="5.7">+  ~WaitQueue()</tspan><tspan x="2" dy="5.7">+  acquire()</tspan><tspan x="2" dy="5.7">+  wakeOne()</tspan><tspan x="2" dy="5.7">+  wakeAll()</tspan><tspan x="2" dy="5.7">+  wakeAllIfWaiting()</tspan><tspan x="2" dy="5.7">+  waiterCount()</tspan><tspan x="2" dy="5.7">-  wait()</tspan><tspan x="2" dy="5.7">-  wakeOneLocked()</tspan><tspan x="2" dy="5.7">-  wakeAllLocked()</tspan><tspan x="2" dy="5.7">-  wakeAndRequeueLocked()</tspan><tspan x="2" dy="5.7">-  completeWaiter()</tspan><tspan x="2" dy="5.7">-  removeWaiterLocked()</tspan><tspan x="2" dy="5.7">-  clearWaitIntentIfEmpty()</tspan><tspan x="2" dy="5.7">-  cancel()</tspan><tspan x="2" dy="5.7">-  publishReady()</tspan></text></g>

<g id="ThreadStateLevel" class="rd" transform="translate(642,753)"><rect width="76" height="115.6"/><text class="h" x="38" y="4.5">Thread::StateLevel</text><line x2="76" y1="6" y2="6"/><line x2="76" y1="91.8" y2="91.8"/><text class="t"><tspan x="2" y="10.4">+  m_State</tspan><tspan x="2" dy="5.7">+  m_SignalMask</tspan><tspan x="2" dy="5.7">+  m_SavedSignalMask</tspan><tspan x="2" dy="5.7">+  m_TemporarySignalMaskActive</tspan><tspan x="2" dy="5.7">+  m_TemporarySignalWaitInterrupted</tspan><tspan x="2" dy="5.7">+  m_DeferredSignalMaskRestore</tspan><tspan x="2" dy="5.7">+  m_DispatchedSignalNumber</tspan><tspan x="2" dy="5.7">+  m_DispatchedSignalContinuation</tspan><tspan x="2" dy="5.7">    Epoch</tspan><tspan x="2" dy="5.7">+  m_bOwnsAlternateSignalStack</tspan><tspan x="2" dy="5.7">+  m_Errno</tspan><tspan x="2" dy="5.7">+  m_InterruptionReason</tspan><tspan x="2" dy="5.7">+  m_bDispatchingWaitEvent</tspan><tspan x="2" dy="5.7">+  m_bTerminalWaitCancelled</tspan><tspan x="2" dy="5.7">    BeforeBlock</tspan><tspan x="2" dy="5.7">+  StateLevel()</tspan><tspan x="2" dy="5.7">+  ~StateLevel()</tspan><tspan x="2" dy="5.7">+  StateLevel()</tspan><tspan x="2" dy="5.7">+  operator=()</tspan></text></g>

<g id="AtomicT" class="nd" transform="translate(784,641)"><rect width="45" height="18"/><text class="h" x="22.5" y="4.5">Atomic&lt; T, bAllow &gt;</text><line x2="45" y1="6" y2="6"/><line x2="45" y1="12" y2="12"/></g>

<g id="DeferredThreadReapNode" class="nd" transform="translate(837,641)"><rect width="61" height="19"/><text class="h" x="30.5" y="4.5">DeferredThreadReapNode</text><line x2="61" y1="6" y2="6"/><line x2="61" y1="12" y2="12"/><text class="t"><tspan x="2" y="16.4">+  DeferredThreadReapNode()</tspan></text></g>

<g id="AtomicSizeT" class="nd" transform="translate(762,803)"><rect width="46" height="18"/><text class="h" x="23" y="4.5">Atomic&lt; size_t &gt;</text><line x2="46" y1="6" y2="6"/><line x2="46" y1="12" y2="12"/></g>

<g id="Mutex" class="rd" transform="translate(1007,793)"><rect width="61" height="36.1"/><text class="h" x="30.5" y="4.5">Mutex</text><line x2="61" y1="6" y2="6"/><line x2="61" y1="12" y2="12"/><text class="t"><tspan x="2" y="16.4">+  Mutex()</tspan><tspan x="2" dy="5.7">+  Mutex()</tspan><tspan x="2" dy="5.7">+  ~Mutex()</tspan><tspan x="2" dy="5.7">+  isOwnedByCurrentThread()</tspan></text></g>

<g id="VectorT" class="nd" transform="translate(1097,370)"><rect width="44" height="104.2"/><text class="h" x="22" y="4.5">Vector&lt; T &gt;</text><line x2="44" y1="6" y2="6"/><line x2="44" y1="34.8" y2="34.8"/><text class="t"><tspan x="2" y="10.4">-  m_Size</tspan><tspan x="2" dy="5.7">-  m_Count</tspan><tspan x="2" dy="5.7">-  m_Start</tspan><tspan x="2" dy="5.7">-  m_Data</tspan><tspan x="2" dy="5.7">-  m_ReserveFactor</tspan><tspan x="2" dy="5.7">+  Vector()</tspan><tspan x="2" dy="5.7">+  Vector()</tspan><tspan x="2" dy="5.7">+  Vector()</tspan><tspan x="2" dy="5.7">+  ~Vector()</tspan><tspan x="2" dy="5.7">+  operator=()</tspan><tspan x="2" dy="5.7">+  operator[]()</tspan><tspan x="2" dy="5.7">+  operator[]()</tspan><tspan x="2" dy="5.7">+  size()</tspan><tspan x="2" dy="5.7">+  count()</tspan><tspan x="2" dy="5.7">+  pushBack()</tspan><tspan x="2" dy="5.7">    and 25 more...</tspan><tspan x="2" dy="5.7">-  reserve()</tspan></text></g>

<g id="RangeListRange" class="nd" transform="translate(1157,401)"><rect width="50" height="40.8"/><text class="h" x="25" y="4.5">RangeList&lt; T, Reversed</text><text class="h" x="25" y="9.3">&gt;::Range</text><line x2="50" y1="11" y2="11"/><line x2="50" y1="22.7" y2="22.7"/><text class="t"><tspan x="2" y="15.4">+    address</tspan><tspan x="2" dy="5.7">+    length</tspan><tspan x="2" dy="5.7">+    Range()</tspan><tspan x="2" dy="5.7">+    Range()</tspan><tspan x="2" dy="5.7">+    operator==()</tspan></text></g>

<g id="Group" class="rd" transform="translate(1278,387)"><rect width="34" height="70"/><text class="h" x="17" y="4.5">Group</text><line x2="34" y1="6" y2="6"/><line x2="34" y1="12" y2="12"/><text class="t"><tspan x="2" y="10.4">-  m_Gid</tspan><tspan x="2" dy="5.7">+  Group()</tspan><tspan x="2" dy="5.7">+  ~Group()</tspan><tspan x="2" dy="5.7">+  join()</tspan><tspan x="2" dy="5.7">+  leave()</tspan><tspan x="2" dy="5.7">+  isMember()</tspan><tspan x="2" dy="5.7">+  getId()</tspan><tspan x="2" dy="5.7">+  getName()</tspan><tspan x="2" dy="5.7">-  Group()</tspan><tspan x="2" dy="5.7">-  Group()</tspan><tspan x="2" dy="5.7">-  operator=()</tspan></text></g>

<g id="VectorThread" class="nd" transform="translate(1085,600)"><rect width="43" height="104.2"/><text class="h" x="21.5" y="4.5">Vector&lt; Thread * &gt;</text><line x2="43" y1="6" y2="6"/><line x2="43" y1="29.1" y2="29.1"/><text class="t"><tspan x="2" y="10.4">-  m_Size</tspan><tspan x="2" dy="5.7">-  m_Count</tspan><tspan x="2" dy="5.7">-  m_Start</tspan><tspan x="2" dy="5.7">-  m_ReserveFactor</tspan><tspan x="2" dy="5.7">+  Vector()</tspan><tspan x="2" dy="5.7">+  Vector()</tspan><tspan x="2" dy="5.7">+  Vector()</tspan><tspan x="2" dy="5.7">+  ~Vector()</tspan><tspan x="2" dy="5.7">+  operator=()</tspan><tspan x="2" dy="5.7">+  operator[]()</tspan><tspan x="2" dy="5.7">+  operator[]()</tspan><tspan x="2" dy="5.7">+  size()</tspan><tspan x="2" dy="5.7">+  count()</tspan><tspan x="2" dy="5.7">+  pushBack()</tspan><tspan x="2" dy="5.7">    and 25 more...</tspan><tspan x="2" dy="5.7">-  reserve()</tspan></text></g>

<g id="VectorRangeList" class="nd" transform="translate(1157,597)"><rect width="43" height="109.2"/><text class="h" x="21.5" y="4.5">Vector&lt; RangeList&lt;</text><text class="h" x="21.5" y="9.3">Range &gt; &gt;</text><line x2="43" y1="11" y2="11"/><line x2="43" y1="34.1" y2="34.1"/><text class="t"><tspan x="2" y="15.4">-  m_Size</tspan><tspan x="2" dy="5.7">-  m_Count</tspan><tspan x="2" dy="5.7">-  m_Start</tspan><tspan x="2" dy="5.7">-  m_ReserveFactor</tspan><tspan x="2" dy="5.7">+  Vector()</tspan><tspan x="2" dy="5.7">+  Vector()</tspan><tspan x="2" dy="5.7">+  Vector()</tspan><tspan x="2" dy="5.7">+  ~Vector()</tspan><tspan x="2" dy="5.7">+  operator=()</tspan><tspan x="2" dy="5.7">+  operator[]()</tspan><tspan x="2" dy="5.7">+  operator[]()</tspan><tspan x="2" dy="5.7">+  size()</tspan><tspan x="2" dy="5.7">+  count()</tspan><tspan x="2" dy="5.7">+  pushBack()</tspan><tspan x="2" dy="5.7">    and 25 more...</tspan><tspan x="2" dy="5.7">-  reserve()</tspan></text></g>

<g id="User" class="rd" transform="translate(1300,600)"><rect width="43" height="98.5"/><text class="h" x="21.5" y="4.5">User</text><line x2="43" y1="6" y2="6"/><line x2="43" y1="12" y2="12"/><text class="t"><tspan x="2" y="10.4">-  m_Uid</tspan><tspan x="2" dy="5.7">+  User()</tspan><tspan x="2" dy="5.7">+  ~User()</tspan><tspan x="2" dy="5.7">+  join()</tspan><tspan x="2" dy="5.7">+  leave()</tspan><tspan x="2" dy="5.7">+  isMember()</tspan><tspan x="2" dy="5.7">+  login()</tspan><tspan x="2" dy="5.7">+  getId()</tspan><tspan x="2" dy="5.7">+  getUsername()</tspan><tspan x="2" dy="5.7">+  getFullName()</tspan><tspan x="2" dy="5.7">+  getDefaultGroup()</tspan><tspan x="2" dy="5.7">+  getHome()</tspan><tspan x="2" dy="5.7">+  getShell()</tspan><tspan x="2" dy="5.7">-  User()</tspan><tspan x="2" dy="5.7">-  User()</tspan><tspan x="2" dy="5.7">-  operator=()</tspan></text></g>

<g id="RangeListTR" class="nd" transform="translate(1129,773)"><rect width="59" height="75.7"/><text class="h" x="29.5" y="4.5">RangeList&lt; T, Reversed &gt;</text><line x2="59" y1="6" y2="6"/><line x2="59" y1="12" y2="12"/><text class="t"><tspan x="2" y="10.4">-  m_bPreferUsed</tspan><tspan x="2" dy="5.7">+  RangeList()</tspan><tspan x="2" dy="5.7">+  RangeList()</tspan><tspan x="2" dy="5.7">+  RangeList()</tspan><tspan x="2" dy="5.7">+  RangeList()</tspan><tspan x="2" dy="5.7">+  ~RangeList()</tspan><tspan x="2" dy="5.7">+  operator=()</tspan><tspan x="2" dy="5.7">+  free()</tspan><tspan x="2" dy="5.7">+  tryFree()</tspan><tspan x="2" dy="5.7">+  freeWithoutAllocation()</tspan><tspan x="2" dy="5.7">+  allocateWithoutAllocation()</tspan><tspan x="2" dy="5.7">    and 9 more...</tspan></text></g>

<g id="PerProcessorScheduler" class="or" transform="translate(767,925)"><rect width="78" height="269.5"/><text class="h" x="39" y="4.5">PerProcessorScheduler</text><line x2="78" y1="6" y2="6"/><line x2="78" y1="86.1" y2="86.1"/><text class="t"><tspan x="2" y="10.4">-  m_NewThreadAdmissionOpen</tspan><tspan x="2" dy="5.7">-  m_StopNewThreadWorker</tspan><tspan x="2" dy="5.7">-  m_AffinityAdmissionOpen</tspan><tspan x="2" dy="5.7">-  m_LogicalCpu</tspan><tspan x="2" dy="5.7">-  m_PhysicalCpu</tspan><tspan x="2" dy="5.7">-  m_NominalQuantumNs</tspan><tspan x="2" dy="5.7">-  m_QuantumDeadline</tspan><tspan x="2" dy="5.7">-  m_NextLoadSampleDeadline</tspan><tspan x="2" dy="5.7">-  m_OneShotTimer</tspan><tspan x="2" dy="5.7">-  m_IdleWakeRequested</tspan><tspan x="2" dy="5.7">-  m_SchedulerTickCounter</tspan><tspan x="2" dy="5.7">-  m_UserReturnDiagnosticSequence</tspan><tspan x="2" dy="5.7">-  DeferredReapPublicationClosed</tspan><tspan x="2" dy="5.7">-  DeferredReapPublicationCountMask</tspan><tspan x="2" dy="5.7">+  PerProcessorScheduler()</tspan><tspan x="2" dy="5.7">+  ~PerProcessorScheduler()</tspan><tspan x="2" dy="5.7">+  initialise()</tspan><tspan x="2" dy="5.7">+  checkEventState()</tspan><tspan x="2" dy="5.7">+  eventHandlerReturned()</tspan><tspan x="2" dy="5.7">+  addThread()</tspan><tspan x="2" dy="5.7">+  addThread()</tspan><tspan x="2" dy="5.7">+  commitCurrentThreadExit()</tspan><tspan x="2" dy="5.7">+  abandonCurrentThreadStack()</tspan><tspan x="2" dy="5.7">+  requestCurrentThreadExit</tspan><tspan x="2" dy="5.7">    ToIdle()</tspan><tspan x="2" dy="5.7">    and 22 more...</tspan><tspan x="2" dy="5.7">+  stackDiscardCount()</tspan><tspan x="2" dy="5.7">+  stackDiscardCount()</tspan><tspan x="2" dy="5.7">-  killCurrentThread()</tspan><tspan x="2" dy="5.7">-  schedule()</tspan><tspan x="2" dy="5.7">-  scheduleWithInterruptState()</tspan><tspan x="2" dy="5.7">-  blockCurrent()</tspan><tspan x="2" dy="5.7">-  publishReadyFromWait()</tspan><tspan x="2" dy="5.7">-  finishCurrentThreadExit()</tspan><tspan x="2" dy="5.7">-  serviceDeferredSubsystem</tspan><tspan x="2" dy="5.7">    Exception()</tspan><tspan x="2" dy="5.7">-  checkEventState()</tspan><tspan x="2" dy="5.7">-  checkEventState()</tspan><tspan x="2" dy="5.7">-  PerProcessorScheduler()</tspan><tspan x="2" dy="5.7">    and 16 more...</tspan><tspan x="2" dy="5.7">-  deleteThreadThenRestoreState()</tspan><tspan x="2" dy="5.7">-  deleteThread()</tspan><tspan x="2" dy="5.7">-  timeAccountingWorkerEntry()</tspan><tspan x="2" dy="5.7">-  processorAddThread()</tspan></text></g>

<g id="FilesystemContextOwner" class="rd" transform="translate(698,1020)"><rect width="64" height="70.3"/><text class="h" x="32" y="4.5">FilesystemContextOwner</text><line x2="64" y1="6" y2="6"/><line x2="64" y1="12" y2="12"/><text class="t"><tspan x="2" y="16.4">+  FilesystemContextOwner()</tspan><tspan x="2" dy="5.7">+  FilesystemContextOwner()</tspan><tspan x="2" dy="5.7">+  operator=()</tspan><tspan x="2" dy="5.7">+  ~FilesystemContextOwner()</tspan><tspan x="2" dy="5.7">+  reference()</tspan><tspan x="2" dy="5.7">+  operator bool()</tspan><tspan x="2" dy="5.7">+  reset()</tspan><tspan x="2" dy="5.7">+  adopt()</tspan><tspan x="2" dy="5.7">-  FilesystemContextOwner()</tspan><tspan x="2" dy="5.7">-  operator=()</tspan></text></g>

<g id="SharedPointerCT" class="rd" transform="translate(852,1003)"><rect width="52" height="109.5"/><text class="h" x="26" y="4.5">SharedPointer&lt; Process</text><text class="h" x="26" y="9.3">::ControllingTerminal &gt;</text><line x2="52" y1="11" y2="11"/><line x2="52" y1="17" y2="17"/><text class="t"><tspan x="2" y="21.4">+    SharedPointer()</tspan><tspan x="2" dy="5.7">+    SharedPointer()</tspan><tspan x="2" dy="5.7">+    SharedPointer()</tspan><tspan x="2" dy="5.7">+    SharedPointer()</tspan><tspan x="2" dy="5.7">+    SharedPointer()</tspan><tspan x="2" dy="5.7">+    ~SharedPointer()</tspan><tspan x="2" dy="5.7">+    reset()</tspan><tspan x="2" dy="5.7">+    reset()</tspan><tspan x="2" dy="5.7">+    get()</tspan><tspan x="2" dy="5.7">+    operator-&gt;()</tspan><tspan x="2" dy="5.7">+    operator*()</tspan><tspan x="2" dy="5.7">      and 11 more...</tspan><tspan x="2" dy="5.7">+    allocate()</tspan><tspan x="2" dy="5.7">+    tryAllocate()</tspan><tspan x="2" dy="5.7">+    tryAdopt()</tspan><tspan x="2" dy="5.7">-    release()</tspan></text></g>

<g id="DynamicLinker" class="rd" transform="translate(962,1000)"><rect width="53" height="109.9"/><text class="h" x="26.5" y="4.5">DynamicLinker</text><line x2="53" y1="6" y2="6"/><line x2="53" y1="23.4" y2="23.4"/><text class="t"><tspan x="2" y="10.4">-  m_ProgramStart</tspan><tspan x="2" dy="5.7">-  m_ProgramSize</tspan><tspan x="2" dy="5.7">-  m_ProgramBuffer</tspan><tspan x="2" dy="5.7">+  DynamicLinker()</tspan><tspan x="2" dy="5.7">+  ~DynamicLinker()</tspan><tspan x="2" dy="5.7">+  DynamicLinker()</tspan><tspan x="2" dy="5.7">+  checkInterpreter()</tspan><tspan x="2" dy="5.7">+  checkDependencies()</tspan><tspan x="2" dy="5.7">+  loadProgram()</tspan><tspan x="2" dy="5.7">+  loadObject()</tspan><tspan x="2" dy="5.7">+  trap()</tspan><tspan x="2" dy="5.7">+  getProgramElf()</tspan><tspan x="2" dy="5.7">+  resolve()</tspan><tspan x="2" dy="5.7">+  resolvePlt()</tspan><tspan x="2" dy="5.7">-  operator=()</tspan><tspan x="2" dy="5.7">-  resolvePltSymbol()</tspan><tspan x="2" dy="5.7">-  initPlt()</tspan><tspan x="2" dy="5.7">-  loadDemandPage()</tspan></text></g>

<g id="RangeListUintptr" class="nd" transform="translate(1125,1017)"><rect width="63" height="75.7"/><text class="h" x="31.5" y="4.5">RangeList&lt; uintptr_t &gt;</text><line x2="63" y1="6" y2="6"/><line x2="63" y1="12" y2="12"/><text class="t"><tspan x="2" y="10.4">-  m_bPreferUsed</tspan><tspan x="2" dy="5.7">+  RangeList()</tspan><tspan x="2" dy="5.7">+  RangeList()</tspan><tspan x="2" dy="5.7">+  RangeList()</tspan><tspan x="2" dy="5.7">+  RangeList()</tspan><tspan x="2" dy="5.7">+  ~RangeList()</tspan><tspan x="2" dy="5.7">+  operator=()</tspan><tspan x="2" dy="5.7">+  free()</tspan><tspan x="2" dy="5.7">+  tryFree()</tspan><tspan x="2" dy="5.7">+  freeWithoutAllocation()</tspan><tspan x="2" dy="5.7">+  allocateWithoutAllocation()</tspan><tspan x="2" dy="5.7">    and 9 more...</tspan></text></g>

<g id="SharedPointerUpty" class="rd" transform="translate(1272,1003)"><rect width="60" height="109.5"/><text class="h" x="30" y="4.5">SharedPointer&lt; Userspace</text><text class="h" x="30" y="9.3">PtyNamespace &gt;</text><line x2="60" y1="11" y2="11"/><line x2="60" y1="17" y2="17"/><text class="t"><tspan x="2" y="21.4">+    SharedPointer()</tspan><tspan x="2" dy="5.7">+    SharedPointer()</tspan><tspan x="2" dy="5.7">+    SharedPointer()</tspan><tspan x="2" dy="5.7">+    SharedPointer()</tspan><tspan x="2" dy="5.7">+    SharedPointer()</tspan><tspan x="2" dy="5.7">+    ~SharedPointer()</tspan><tspan x="2" dy="5.7">+    reset()</tspan><tspan x="2" dy="5.7">+    reset()</tspan><tspan x="2" dy="5.7">+    get()</tspan><tspan x="2" dy="5.7">+    operator-&gt;()</tspan><tspan x="2" dy="5.7">+    operator*()</tspan><tspan x="2" dy="5.7">      and 11 more...</tspan><tspan x="2" dy="5.7">+    allocate()</tspan><tspan x="2" dy="5.7">+    tryAllocate()</tspan><tspan x="2" dy="5.7">+    tryAdopt()</tspan><tspan x="2" dy="5.7">-    release()</tspan></text></g>

<g id="StaticString128" class="rd" transform="translate(1337,997)"><rect width="53" height="121.3"/><text class="h" x="26.5" y="4.5">StaticString&lt; 128 &gt;</text><line x2="53" y1="6" y2="6"/><line x2="53" y1="29.1" y2="29.1"/><text class="t"><tspan x="2" y="10.4">-  m_pData</tspan><tspan x="2" dy="5.7">-  m_Length</tspan><tspan x="2" dy="5.7">-  m_Hash</tspan><tspan x="2" dy="5.7">-  m_AllowHashes</tspan><tspan x="2" dy="5.7">+  StaticString()</tspan><tspan x="2" dy="5.7">+  StaticString()</tspan><tspan x="2" dy="5.7">+  StaticString()</tspan><tspan x="2" dy="5.7">+  StaticString()</tspan><tspan x="2" dy="5.7">+  StaticString()</tspan><tspan x="2" dy="5.7">+  StaticString()</tspan><tspan x="2" dy="5.7">+  operator const char *()</tspan><tspan x="2" dy="5.7">+  operator+=()</tspan><tspan x="2" dy="5.7">+  operator+=()</tspan><tspan x="2" dy="5.7">+  clear()</tspan><tspan x="2" dy="5.7">+  assign()</tspan><tspan x="2" dy="5.7">    and 34 more...</tspan><tspan x="2" dy="5.7">-  updateHash()</tspan><tspan x="2" dy="5.7">-  check()</tspan><tspan x="2" dy="5.7">-  canAppend()</tspan><tspan x="2" dy="5.7">-  contains()</tspan></text></g>

<g id="VirtualAddressSpace" class="rd" transform="translate(1395,950)"><rect width="65" height="212.5"/><text class="h" x="32.5" y="4.5">VirtualAddressSpace</text><line x2="65" y1="6" y2="6"/><line x2="65" y1="86.1" y2="86.1"/><text class="t"><tspan x="2" y="10.4">+  m_Heap</tspan><tspan x="2" dy="5.7">+  m_HeapEnd</tspan><tspan x="2" dy="5.7">+  KernelMode</tspan><tspan x="2" dy="5.7">+  Write</tspan><tspan x="2" dy="5.7">+  Execute</tspan><tspan x="2" dy="5.7">+  WriteThrough</tspan><tspan x="2" dy="5.7">+  CacheDisable</tspan><tspan x="2" dy="5.7">+  CopyOnWrite</tspan><tspan x="2" dy="5.7">+  Swapped</tspan><tspan x="2" dy="5.7">+  Shared</tspan><tspan x="2" dy="5.7">+  WriteCombine</tspan><tspan x="2" dy="5.7">+  Accessed</tspan><tspan x="2" dy="5.7">    and 8 more...</tspan><tspan x="2" dy="5.7">#  m_HeapRegionId</tspan><tspan x="2" dy="5.7">+  rawUserMemory()</tspan><tspan x="2" dy="5.7">+  runtimeMappingPages()</tspan><tspan x="2" dy="5.7">+  memoryLockAccount()</tspan><tspan x="2" dy="5.7">+  setMemoryLockAccount()</tspan><tspan x="2" dy="5.7">+  userMemoryPolicy()</tspan><tspan x="2" dy="5.7">+  setUserMemoryPolicy()</tspan><tspan x="2" dy="5.7">+  expandHeap()</tspan><tspan x="2" dy="5.7">+  isAddressValid()</tspan><tspan x="2" dy="5.7">+  isMapped()</tspan><tspan x="2" dy="5.7">+  map()</tspan><tspan x="2" dy="5.7">    and 43 more...</tspan><tspan x="2" dy="5.7">+  getKernelAddressSpace()</tspan><tspan x="2" dy="5.7">+  create()</tspan><tspan x="2" dy="5.7">#  admitRawMemoryChange()</tspan><tspan x="2" dy="5.7">#  commitRawMemoryChange()</tspan><tspan x="2" dy="5.7">#  prepareZeroPage()</tspan><tspan x="2" dy="5.7">#  VirtualAddressSpace()</tspan><tspan x="2" dy="5.7">-  VirtualAddressSpace()</tspan><tspan x="2" dy="5.7">-  VirtualAddressSpace()</tspan><tspan x="2" dy="5.7">-  operator=()</tspan><tspan x="2" dy="5.7">-  rollbackHeapExpansion()</tspan></text></g>

<g id="SharedPointerVfork" class="rd" transform="translate(1466,1003)"><rect width="53" height="109.5"/><text class="h" x="26.5" y="4.5">SharedPointer&lt; Process</text><text class="h" x="26.5" y="9.3">::VforkCompletion &gt;</text><line x2="53" y1="11" y2="11"/><line x2="53" y1="17" y2="17"/><text class="t"><tspan x="2" y="21.4">+    SharedPointer()</tspan><tspan x="2" dy="5.7">+    SharedPointer()</tspan><tspan x="2" dy="5.7">+    SharedPointer()</tspan><tspan x="2" dy="5.7">+    SharedPointer()</tspan><tspan x="2" dy="5.7">+    SharedPointer()</tspan><tspan x="2" dy="5.7">+    ~SharedPointer()</tspan><tspan x="2" dy="5.7">+    reset()</tspan><tspan x="2" dy="5.7">+    reset()</tspan><tspan x="2" dy="5.7">+    get()</tspan><tspan x="2" dy="5.7">+    operator-&gt;()</tspan><tspan x="2" dy="5.7">+    operator*()</tspan><tspan x="2" dy="5.7">      and 11 more...</tspan><tspan x="2" dy="5.7">+    allocate()</tspan><tspan x="2" dy="5.7">+    tryAllocate()</tspan><tspan x="2" dy="5.7">+    tryAdopt()</tspan><tspan x="2" dy="5.7">-    release()</tspan></text></g>

<g id="Cache" class="nd" transform="translate(308,1257)"><rect width="56" height="212.5"/><text class="h" x="28" y="4.5">Cache</text><line x2="56" y1="6" y2="6"/><line x2="56" y1="57.6" y2="57.6"/><text class="t"><tspan x="2" y="10.4">+  MaxWritebackPages</tspan><tspan x="2" dy="5.7">-  m_DirtyTracking</tspan><tspan x="2" dy="5.7">-  m_ManagerId</tspan><tspan x="2" dy="5.7">-  m_PeriodicTimerEnabled</tspan><tspan x="2" dy="5.7">-  m_Callback</tspan><tspan x="2" dy="5.7">-  m_Nanoseconds</tspan><tspan x="2" dy="5.7">-  m_WritebackEpoch</tspan><tspan x="2" dy="5.7">-  m_CallbackMeta</tspan><tspan x="2" dy="5.7">-  m_PageConstraints</tspan><tspan x="2" dy="5.7">+  Cache()</tspan><tspan x="2" dy="5.7">+  ~Cache()</tspan><tspan x="2" dy="5.7">+  shutdown()</tspan><tspan x="2" dy="5.7">+  setCallback()</tspan><tspan x="2" dy="5.7">+  setDirtyTracking()</tspan><tspan x="2" dy="5.7">+  lookup()</tspan><tspan x="2" dy="5.7">+  read()</tspan><tspan x="2" dy="5.7">+  lookupStable()</tspan><tspan x="2" dy="5.7">+  insert()</tspan><tspan x="2" dy="5.7">+  insert()</tspan><tspan x="2" dy="5.7">    and 26 more...</tspan><tspan x="2" dy="5.7">-  map()</tspan><tspan x="2" dy="5.7">-  evict()</tspan><tspan x="2" dy="5.7">-  finishRetirement()</tspan><tspan x="2" dy="5.7">-  releaseWriteback()</tspan><tspan x="2" dy="5.7">-  waitForPageEviction()</tspan><tspan x="2" dy="5.7">-  ensureUsable()</tspan><tspan x="2" dy="5.7">-  lruEvict()</tspan><tspan x="2" dy="5.7">-  linkPage()</tspan><tspan x="2" dy="5.7">-  promotePage()</tspan><tspan x="2" dy="5.7">-  unlinkPage()</tspan><tspan x="2" dy="5.7">    and 10 more...</tspan><tspan x="2" dy="5.7">-  discover_range()</tspan></text></g>

<g id="Process" class="rd" transform="translate(1060,1215)"><rect width="76" height="269.5"/><text class="h" x="38" y="4.5">Process</text><line x2="76" y1="6" y2="6"/><line x2="76" y1="74.7" y2="74.7"/><text class="t"><tspan x="2" y="10.4">-  m_Id</tspan><tspan x="2" dy="5.7">-  m_UserspaceId</tspan><tspan x="2" dy="5.7">-  m_ExitStatus</tspan><tspan x="2" dy="5.7">-  m_bFilesystemContextReady</tspan><tspan x="2" dy="5.7">-  m_UserReservationGeneration</tspan><tspan x="2" dy="5.7">-  m_ContinuationEpoch</tspan><tspan x="2" dy="5.7">-  m_nThreadJoinOperations</tspan><tspan x="2" dy="5.7">-  m_bThreadJoinAdmissionClosed</tspan><tspan x="2" dy="5.7">-  m_nExternalLeases</tspan><tspan x="2" dy="5.7">-  m_bExternalLeaseAdmission</tspan><tspan x="2" dy="5.7">    Closed</tspan><tspan x="2" dy="5.7">    and 19 more...</tspan><tspan x="2" dy="5.7">+  Process()</tspan><tspan x="2" dy="5.7">+  Process()</tspan><tspan x="2" dy="5.7">+  ~Process()</tspan><tspan x="2" dy="5.7">+  addThread()</tspan><tspan x="2" dy="5.7">+  threadExiting()</tspan><tspan x="2" dy="5.7">+  transferExecProcessSignals()</tspan><tspan x="2" dy="5.7">+  removeThread()</tspan><tspan x="2" dy="5.7">+  getNumThreads()</tspan><tspan x="2" dy="5.7">+  acquireThread()</tspan><tspan x="2" dy="5.7">+  acquireProcessSignalThread()</tspan><tspan x="2" dy="5.7">    and 87 more...</tspan><tspan x="2" dy="5.7">+  currentFilesystemCredentials()</tspan><tspan x="2" dy="5.7">+  getInit()</tspan><tspan x="2" dy="5.7">+  setInit()</tspan><tspan x="2" dy="5.7">#  publishAccountIdentity()</tspan><tspan x="2" dy="5.7">#  Process()</tspan><tspan x="2" dy="5.7">#  Process()</tspan><tspan x="2" dy="5.7">#  publish()</tspan><tspan x="2" dy="5.7">#  prepareForDestruction()</tspan><tspan x="2" dy="5.7">#  enableTimeAccountingReports()</tspan><tspan x="2" dy="5.7">#  setTimeAccountingReportInterest()</tspan><tspan x="2" dy="5.7">#  loadFilesystemIds()</tspan><tspan x="2" dy="5.7">#  publishFilesystemIds()</tspan><tspan x="2" dy="5.7">-  finishTermination()</tspan><tspan x="2" dy="5.7">-  Process()</tspan><tspan x="2" dy="5.7">-  operator=()</tspan><tspan x="2" dy="5.7">-  reportTimesUpdated()</tspan><tspan x="2" dy="5.7">-  drainDeferredTimeAccounting()</tspan><tspan x="2" dy="5.7">-  closeDeferredTimeAccounting()</tspan><tspan x="2" dy="5.7">-  totalTime()</tspan><tspan x="2" dy="5.7">-  reportTimeAccounting()</tspan><tspan x="2" dy="5.7">-  queueTimeAccountingReport()</tspan><tspan x="2" dy="5.7">-  processTerminated()</tspan><tspan x="2" dy="5.7">    and 15 more...</tspan></text></g>

<g id="DirectWritebackLease" class="gy" transform="translate(494,1513)"><rect width="59" height="52.9"/><text class="h" x="29.5" y="4.5">Cache::DirectWritebackLease</text><line x2="59" y1="6" y2="6"/><line x2="59" y1="12" y2="12"/><text class="t"><tspan x="2" y="10.4">-  m_Physical</tspan><tspan x="2" dy="5.7">+  DirectWritebackLease()</tspan><tspan x="2" dy="5.7">+  ~DirectWritebackLease()</tspan><tspan x="2" dy="5.7">+  DirectWritebackLease()</tspan><tspan x="2" dy="5.7">+  operator=()</tspan><tspan x="2" dy="5.7">+  acquire()</tspan><tspan x="2" dy="5.7">+  release()</tspan><tspan x="2" dy="5.7">+  physical()</tspan></text></g>
</g>
</svg>
